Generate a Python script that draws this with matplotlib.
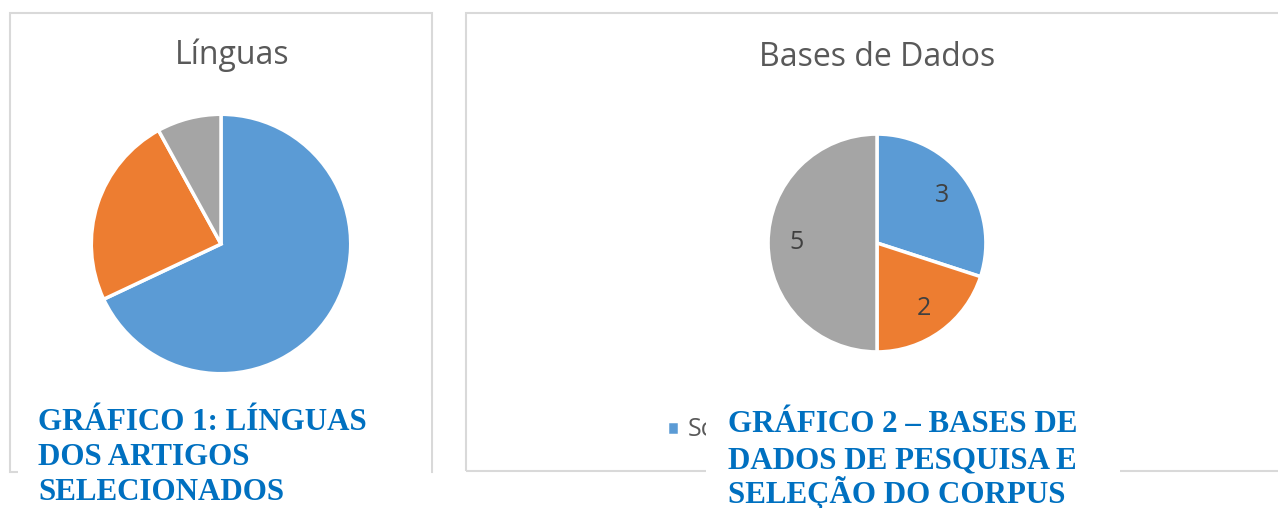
import matplotlib
matplotlib.use("Agg")
import matplotlib.pyplot as plt
from matplotlib.patches import Rectangle

W, H = 1278, 508

# data
lang_labels = ["Português", "Inglês", "Espanhol"]
lang_counts = [17, 6, 2]
db_labels = ["Scielo", "LILACS", "PubMed"]
db_counts = [3, 2, 5]
colors = ["#5B9BD5", "#ED7D31", "#A5A5A5"]

caption1 = ["GRÁFICO 1: LÍNGUAS", "DOS ARTIGOS", "SELECIONADOS"]
caption2 = ["GRÁFICO 2 – BASES DE", "DADOS DE PESQUISA E", "SELEÇÃO DO CORPUS"]

TITLE_COLOR = "#595959"
CAPTION_COLOR = "#0070C0"
SANS = ["Open Sans", "DejaVu Sans"]
SERIF = ["Liberation Serif", "DejaVu Serif"]


def px_box(x0, y0, x1, y1):
    """Pixel box (top-left origin) -> figure fraction [left, bottom, w, h]."""
    return [x0 / W, 1 - y1 / H, (x1 - x0) / W, (y1 - y0) / H]


def add_rect(fig, x0, y0, x1, y1, **kw):
    l, b, w, h = px_box(x0, y0, x1, y1)
    fig.add_artist(Rectangle((l, b), w, h, transform=fig.transFigure, **kw))


def add_caption(fig, lines, x, first_baseline, step=35.5):
    # one text per line so accented capitals don't push the spacing around
    for i, line in enumerate(lines):
        fig.text(x / W, 1 - (first_baseline + i * step) / H, line,
                 ha="left", va="baseline", fontsize=22.3, fontweight="bold",
                 family=SERIF, color=CAPTION_COLOR, zorder=6)


fig = plt.figure(figsize=(W / 100, H / 100), dpi=100)

# chart frames
add_rect(fig, 10, 13, 432, 472, fill=False, edgecolor="#D9D9D9", lw=1.5, zorder=1)
add_rect(fig, 466, 13, 1295, 471, fill=False, edgecolor="#D9D9D9", lw=1.5, zorder=1)

# left pie
ax1 = fig.add_axes(px_box(90, 113, 352, 375))
ax1.pie(lang_counts, colors=colors, startangle=90, counterclock=False,
        wedgeprops=dict(edgecolor="white", linewidth=2.5))
ax1.set_xlim(-1.01, 1.01)
ax1.set_ylim(-1.01, 1.01)
fig.text(232 / W, 1 - 55 / H, "Línguas", ha="center", va="center",
         fontsize=23, color=TITLE_COLOR, family=SANS)

# right pie
ax2 = fig.add_axes(px_box(767, 133, 987, 353))
total = sum(db_counts)
wedges, _, autotexts = ax2.pie(
    db_counts, colors=colors, startangle=90, counterclock=False,
    wedgeprops=dict(edgecolor="white", linewidth=2.5),
    autopct=lambda p: f"{round(p * total / 100):d}", pctdistance=0.74,
    textprops=dict(color="#404040", fontsize=18, family=SANS))
ax2.set_xlim(-1.01, 1.01)
ax2.set_ylim(-1.01, 1.01)
fig.text(877 / W, 1 - 57 / H, "Bases de Dados", ha="center", va="center",
         fontsize=23, color=TITLE_COLOR, family=SANS)

# legend, mostly hidden behind the caption
ax2.legend(wedges, db_labels, loc="center left", ncol=3, frameon=False,
           bbox_to_anchor=(662 / W, 1 - 430 / H), bbox_transform=fig.transFigure,
           handlelength=0.48, handleheight=0.48, handletextpad=0.36,
           borderaxespad=0, borderpad=0.2,
           prop=dict(family=SANS, size=18), labelcolor=TITLE_COLOR)

# caption boxes laid over the charts
add_rect(fig, 18, 396, 431, 508, facecolor="white", edgecolor="none", zorder=5)
add_rect(fig, 706, 398, 1120, 508, facecolor="white", edgecolor="none", zorder=5)

add_caption(fig, caption1, 38, 429.5)
add_caption(fig, caption2, 728, 432.5)

fig.savefig("out.png", dpi=100)
